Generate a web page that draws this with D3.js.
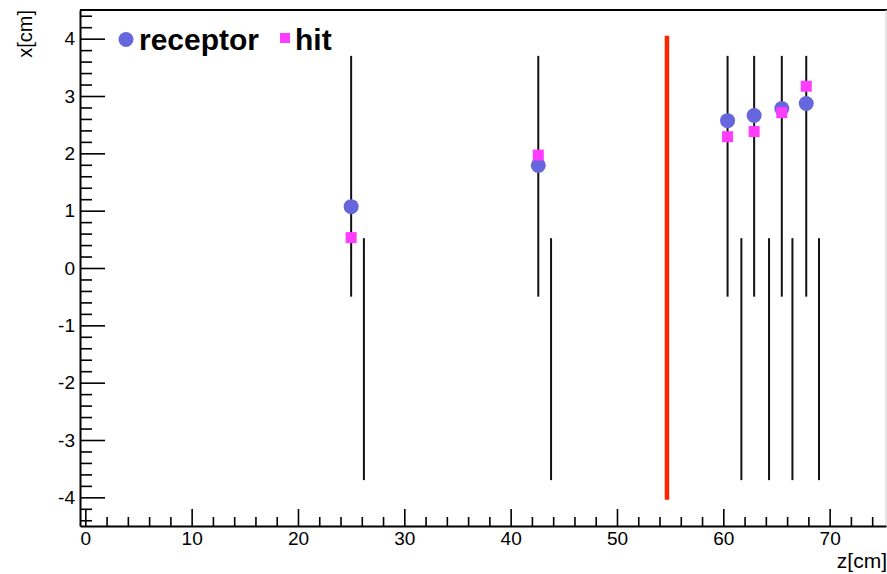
<!DOCTYPE html>
<html>
<head>
<meta charset="utf-8">
<script src="https://cdn.jsdelivr.net/npm/d3@7"></script>
<style>
  html, body { margin: 0; padding: 0; background: #fff; }
  svg { display: block; font-family: "Liberation Sans", Arial, Helvetica, sans-serif; }
</style>
</head>
<body>
<svg id="chart" width="887" height="574"></svg>
<script>
// ---- data ----
const zTicks = [0, 10, 20, 30, 40, 50, 60, 70];
const xTicks = [-4, -3, -2, -1, 0, 1, 2, 3, 4];
const receptorZ = [25.0, 42.6, 60.4, 62.9, 65.5, 67.8];
const receptorX = [1.07, 1.79, 2.57, 2.66, 2.78, 2.87];
const hitZ = [25.0, 42.6, 60.4, 62.9, 65.5, 67.8];
const hitX = [0.53, 1.97, 2.29, 2.38, 2.71, 3.17];
const upperStripZ = [25.0, 42.6, 60.4, 62.9, 65.5, 67.8];
const upperStripRange = [-0.5, 3.7];
const lowerStripZ = [26.2, 43.8, 61.7, 64.3, 66.5, 69.0];
const lowerStripRange = [-3.7, 0.52];
const planeZ = [54.7];
const planeRange = [-4.04, 4.05];
const legendLabels = ["receptor", "hit"];

// ---- layout ----
const svg = d3.select("#chart");
const mLeft = 80, mRight = 886, mTop = 10, mBottom = 526;
const x = d3.scaleLinear().domain([-0.5, 75.3]).range([mLeft, mRight]);
const y = d3.scaleLinear().domain([-4.5, 4.5]).range([mBottom, mTop]);

const recColor = "#6767dd";
const hitColor = "#ff3cff";

// frame (top + faint right)
svg.append("line").attr("x1", mLeft).attr("x2", mRight + 1).attr("y1", mTop).attr("y2", mTop)
  .attr("stroke", "#000").attr("stroke-width", 2);
svg.append("line").attr("x1", mRight).attr("x2", mRight).attr("y1", mTop).attr("y2", mBottom)
  .attr("stroke", "#ccc").attr("stroke-width", 1);

// minor tick values
const zMinor = d3.range(0, 76, 2).filter(v => v % 10 !== 0);
const xMinor = d3.range(-44, 45, 2).map(v => v / 10).filter(v => Math.round(v * 10) % 10 !== 0);

const fmt = d => String(d);

// x (z) axis
const gx = svg.append("g").attr("transform", `translate(0,${mBottom})`);
gx.call(d3.axisBottom(x).tickValues(zTicks).tickSizeInner(-17).tickSizeOuter(0).tickPadding(6).tickFormat(fmt));
const gxm = svg.append("g").attr("transform", `translate(0,${mBottom})`);
gxm.call(d3.axisBottom(x).tickValues(zMinor).tickSizeInner(-9).tickSizeOuter(0).tickFormat(""));
gxm.select(".domain").remove();

// y (x) axis
const gy = svg.append("g").attr("transform", `translate(${mLeft},0)`);
gy.call(d3.axisLeft(y).tickValues(xTicks).tickSizeInner(-25).tickSizeOuter(0).tickPadding(5).tickFormat(fmt));
const gym = svg.append("g").attr("transform", `translate(${mLeft},0)`);
gym.call(d3.axisLeft(y).tickValues(xMinor).tickSizeInner(-12).tickSizeOuter(0).tickFormat(""));
gym.select(".domain").remove();

svg.selectAll(".domain").attr("stroke", "#000").attr("stroke-width", 2);
svg.selectAll(".tick line").attr("stroke", "#000").attr("stroke-width", 1.6);
svg.selectAll(".tick text").attr("font-size", 19).attr("fill", "#000")
  .attr("font-family", "'Liberation Sans', Arial, sans-serif");

// axis titles
svg.append("text").attr("transform", `translate(32,${mTop}) rotate(-90)`)
  .attr("text-anchor", "end").attr("font-size", 20).text("x[cm]");
svg.append("text").attr("x", 887).attr("y", 568)
  .attr("text-anchor", "end").attr("font-size", 21).text("z[cm]");

// strips
svg.append("g").selectAll("line").data(upperStripZ).join("line")
  .attr("x1", d => x(d)).attr("x2", d => x(d))
  .attr("y1", y(upperStripRange[1])).attr("y2", y(upperStripRange[0]))
  .attr("stroke", "#111").attr("stroke-width", 2);
svg.append("g").selectAll("line").data(lowerStripZ).join("line")
  .attr("x1", d => x(d)).attr("x2", d => x(d))
  .attr("y1", y(lowerStripRange[1])).attr("y2", y(lowerStripRange[0]))
  .attr("stroke", "#111").attr("stroke-width", 2);
svg.append("g").selectAll("line").data(planeZ).join("line")
  .attr("x1", d => x(d)).attr("x2", d => x(d))
  .attr("y1", y(planeRange[1])).attr("y2", y(planeRange[0]))
  .attr("stroke", "#ff2200").attr("stroke-width", 4.5);

// markers
svg.append("g").selectAll("circle").data(receptorZ).join("circle")
  .attr("cx", d => x(d)).attr("cy", (d, i) => y(receptorX[i])).attr("r", 7.5)
  .attr("fill", recColor);
svg.append("g").selectAll("rect").data(hitZ).join("rect")
  .attr("x", d => x(d) - 5.5).attr("y", (d, i) => y(hitX[i]) - 5.5)
  .attr("width", 11).attr("height", 11).attr("fill", hitColor);

// legend
svg.append("circle").attr("cx", 126).attr("cy", 39.5).attr("r", 7.5).attr("fill", recColor);
svg.append("text").attr("x", 139).attr("y", 49.5).attr("font-size", 30).attr("font-weight", "bold")
  .text(legendLabels[0]);
svg.append("rect").attr("x", 280).attr("y", 33).attr("width", 10).attr("height", 10).attr("fill", hitColor);
svg.append("text").attr("x", 295).attr("y", 49.5).attr("font-size", 30).attr("font-weight", "bold")
  .text(legendLabels[1]);
</script>
</body>
</html>
